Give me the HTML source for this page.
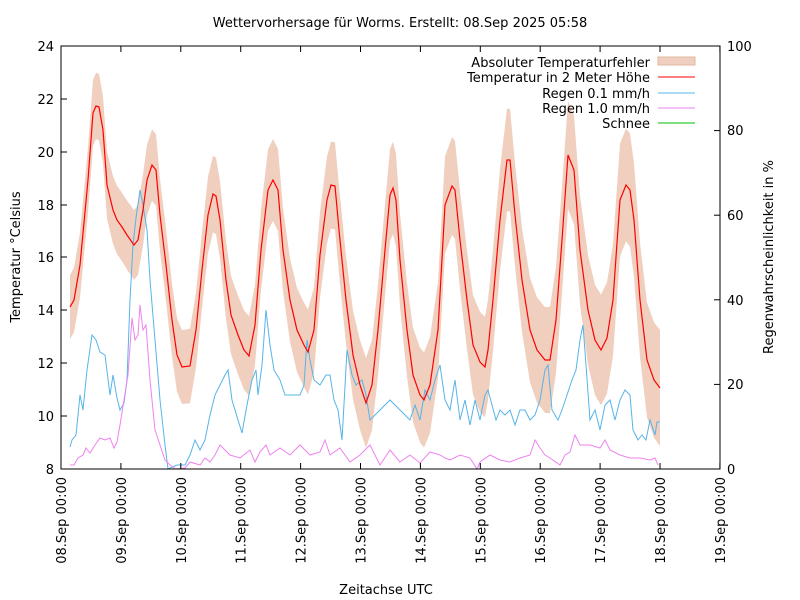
<!DOCTYPE html>
<html><head><meta charset="utf-8"><style>
body{margin:0;background:#fff;}
svg{display:block;font-family:"DejaVu Sans",sans-serif;}
</style></head><body>
<svg id="s" width="800" height="600" xmlns="http://www.w3.org/2000/svg">
<rect width="800" height="600" fill="#fff"/>
<text x="400" y="27" font-size="13" text-anchor="middle">Wettervorhersage für Worms. Erstellt: 08.Sep 2025 05:58</text>
<path id="band" fill="#f0cfbe" stroke="none"/>
<polyline id="blue" fill="none" stroke="#56b4e9" stroke-width="1"/>
<polyline id="pink" fill="none" stroke="#ee82ee" stroke-width="1"/>
<polyline id="red" fill="none" stroke="#ff0000" stroke-width="1.2"/>
<g id="ticks" stroke="#000" stroke-width="1"></g>
<rect x="61" y="46" width="659" height="423" fill="none" stroke="#000" stroke-width="1"/>
<g font-size="13" text-anchor="end">
<text x="54" y="51">24</text><text x="54" y="104">22</text><text x="54" y="157">20</text><text x="54" y="210">18</text><text x="54" y="262">16</text><text x="54" y="315">14</text><text x="54" y="368">12</text><text x="54" y="421">10</text><text x="54" y="474">8</text>
</g>
<g font-size="13" text-anchor="start">
<text x="727" y="51">100</text><text x="727" y="135">80</text><text x="727" y="220">60</text><text x="727" y="305">40</text><text x="727" y="389">20</text><text x="727" y="474">0</text>
</g>
<g id="xl" font-size="13" text-anchor="end"></g>
<text transform="translate(20,257) rotate(-90)" font-size="13" text-anchor="middle">Temperatur °Celsius</text>
<text transform="translate(773,257) rotate(-90)" font-size="13" text-anchor="middle">Regenwahrscheinlichkeit in %</text>
<text x="386" y="594" font-size="13" text-anchor="middle">Zeitachse UTC</text>
<g font-size="13" text-anchor="end">
<text x="650" y="67">Absoluter Temperaturfehler</text>
<text x="650" y="82">Temperatur in 2 Meter Höhe</text>
<text x="650" y="98">Regen 0.1 mm/h</text>
<text x="650" y="113">Regen 1.0 mm/h</text>
<text x="650" y="128">Schnee</text>
</g>
<rect x="658" y="57" width="37" height="8" fill="#f0cfbe" stroke="#e0b8a0" stroke-width="1"/>
<line x1="658" y1="77" x2="695" y2="77" stroke="#f00"/>
<line x1="658" y1="93" x2="695" y2="93" stroke="#56b4e9"/>
<line x1="658" y1="108" x2="695" y2="108" stroke="#ee82ee"/>
<line x1="658" y1="123" x2="695" y2="123" stroke="#00c000"/>
</svg>
<script>
var T=[[70,307],[74,300],[80,265],[88,180],[93,113],[96,106],[99,107],[103,130],[107,185],[113,210],[117,220],[122,227],[127,235],[134,245],[138,240],[143,210],[147,180],[152,165],[156,170],[160,215],[166,265],[172,320],[177,355],[182,367],[190,366],[196,330],[202,270],[208,215],[213,194],[216,196],[220,220],[226,280],[231,315],[238,335],[244,350],[249,356],[255,325],[261,250],[268,190],[273,180],[278,190],[283,250],[290,300],[297,330],[304,345],[308,352],[314,330],[320,255],[327,200],[331,185],[335,186],[339,230],[346,300],[353,355],[360,385],[366,403],[372,385],[378,330],[385,250],[390,195],[393,188],[396,200],[400,260],[407,330],[413,375],[420,395],[424,400],[430,385],[438,330],[445,205],[452,186],[455,190],[460,240],[467,300],[473,345],[480,362],[485,367],[488,350],[493,300],[500,220],[507,160],[510,160],[515,215],[522,280],[530,330],[537,350],[545,360],[550,360],[556,320],[562,240],[568,155],[574,170],[580,250],[588,310],[595,340],[601,350],[607,338],[613,300],[620,200],[626,185],[630,190],[634,220],[640,300],[647,360],[654,380],[660,388]];
var B=[[70,447],[72,440],[76,435],[80,395],[83,410],[87,370],[92,335],[96,340],[100,352],[105,355],[110,395],[113,375],[117,398],[120,410],[124,403],[127,380],[130,300],[133,245],[136,218],[140,190],[143,205],[147,230],[150,280],[155,340],[160,400],[165,445],[168,469],[177,465],[185,465],[190,455],[195,440],[200,450],[205,440],[210,415],[215,395],[220,385],[225,375],[228,370],[232,400],[238,420],[242,433],[247,405],[252,380],[256,370],[258,395],[262,365],[266,310],[270,345],[274,370],[280,380],[285,395],[290,395],[295,395],[300,395],[304,385],[307,340],[310,360],[314,380],[320,385],[326,375],[330,375],[334,400],[338,410],[342,440],[347,350],[352,375],[356,385],[362,380],[366,395],[370,420],[380,410],[390,400],[400,410],[410,420],[415,405],[420,420],[425,390],[430,400],[435,380],[440,365],[445,400],[450,410],[455,380],[460,420],[465,400],[470,425],[475,400],[480,420],[485,395],[488,390],[492,405],[496,420],[500,410],[505,415],[510,410],[515,425],[520,410],[525,410],[530,420],[535,415],[540,400],[545,370],[548,365],[552,410],[558,420],[562,410],[567,395],[572,380],[576,370],[580,340],[583,325],[586,365],[590,420],[595,410],[600,430],[605,405],[610,400],[615,420],[620,400],[625,390],[630,395],[633,430],[638,440],[642,435],[646,440],[650,420],[655,435],[657,422],[660,422]];
var P=[[70,465],[74,465],[78,458],[83,455],[86,448],[90,453],[95,445],[100,438],[105,440],[110,438],[114,448],[117,442],[120,425],[124,400],[128,375],[132,318],[135,340],[138,335],[140,305],[143,330],[146,325],[150,380],[155,430],[160,445],[165,460],[170,465],[175,469],[185,468],[190,462],[200,465],[205,458],[210,462],[215,455],[220,445],[225,450],[230,455],[240,458],[250,450],[255,462],[260,452],[266,445],[270,455],[280,448],[290,455],[300,445],[305,450],[310,455],[320,452],[325,440],[330,455],[340,448],[350,462],[360,455],[370,445],[380,465],[390,450],[400,462],[410,455],[420,463],[430,452],[440,455],[445,458],[450,460],[460,455],[470,458],[477,469],[480,462],[490,455],[500,460],[510,462],[520,458],[530,455],[535,440],[540,448],[545,455],[550,458],[560,465],[565,455],[570,452],[575,435],[580,445],[590,445],[600,448],[605,440],[610,450],[620,455],[630,458],[640,458],[650,460],[655,458],[658,465]];
function pl(a){return a.map(function(p){return p[0]+","+p[1]}).join(" ");}
document.getElementById("red").setAttribute("points",pl(T));
document.getElementById("blue").setAttribute("points",pl(B));
document.getElementById("pink").setAttribute("points",pl(P));
function d(x){return 32+(x-70)/590*26;}
var up=T.map(function(p){return [p[0],Math.max(46,p[1]-d(p[0]))]});
var lo=T.map(function(p){return [p[0],Math.min(469,p[1]+d(p[0]))]}).reverse();
document.getElementById("band").setAttribute("d","M"+pl(up)+" L"+pl(lo)+" Z");
var g=document.getElementById("ticks"),xl=document.getElementById("xl"),h="";
var ly=[46,99,152,205,257,310,363,416,469];
ly.forEach(function(y){h+='<line x1="61" y1="'+y+'" x2="67" y2="'+y+'"/>';});
[46,130.6,215.2,299.8,384.4,469].forEach(function(y){h+='<line x1="714" y1="'+y+'" x2="720" y2="'+y+'"/>';});
var labs=["08","09","10","11","12","13","14","15","16","17","18","19"],t="";
for(var i=0;i<12;i++){var x=61+i*59.9;h+='<line x1="'+x+'" y1="469" x2="'+x+'" y2="463"/><line x1="'+x+'" y1="46" x2="'+x+'" y2="52"/>';
t+='<text transform="translate('+(x+5)+',477) rotate(-90)">'+labs[i]+'.Sep 00:00</text>';}
g.innerHTML=h;xl.innerHTML=t;
</script>
</body></html>
